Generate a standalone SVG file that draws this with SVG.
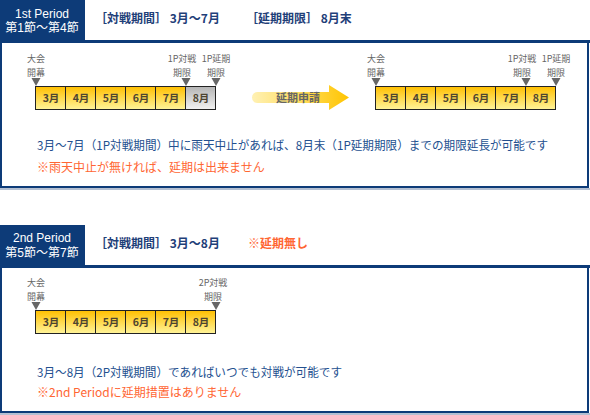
<svg xmlns="http://www.w3.org/2000/svg" width="590" height="415" viewBox="0 0 590 415">
<defs>
<linearGradient id="gy" x1="0" y1="0" x2="0" y2="1"><stop offset="0" stop-color="#ffbf00"/><stop offset="1" stop-color="#fff49a"/></linearGradient>
<linearGradient id="gg" x1="0" y1="0" x2="0" y2="1"><stop offset="0" stop-color="#b4b4b4"/><stop offset="1" stop-color="#f2f2f2"/></linearGradient>
<linearGradient id="ga" x1="0" y1="0" x2="1" y2="0"><stop offset="0" stop-color="#fff1b4"/><stop offset="0.6" stop-color="#ffd84a"/><stop offset="1" stop-color="#ffc400"/></linearGradient>
<style>
.tab{fill:#0d3b78}
.frm{fill:#0d3b78}
.sh{fill:#b4c0d2}
.tt{font-family:"Liberation Sans","Noto Sans CJK JP",sans-serif;font-size:12px;fill:#fff;text-anchor:middle}
.ttl{font-family:"Noto Sans CJK JP",sans-serif;font-size:12px;font-weight:bold;fill:#1f4079}
.red{fill:#ff6633}
.cell{stroke:#222;stroke-width:1}
.cl{font-family:"Noto Sans CJK JP",sans-serif;font-size:10.5px;font-weight:bold;fill:#4d4430;text-anchor:middle}
.lb{font-family:"Noto Sans CJK JP",sans-serif;font-size:9px;fill:#666;text-anchor:middle}
.tri{fill:#666}
.bt{font-family:"Noto Sans CJK JP",sans-serif;font-size:12px;fill:#23508f}
.rt{font-family:"Noto Sans CJK JP",sans-serif;font-size:12px;fill:#ff6633}
.at{font-family:"Noto Sans CJK JP",sans-serif;font-size:11px;font-weight:bold;fill:#666;text-anchor:middle}
</style>
</defs>

<!-- Section 1 -->
<g id="period1-header">
<rect class="tab" x="0" y="0" width="85" height="41"/>
<text class="tt" x="42" y="18">1st Period</text>
<text class="tt" x="42" y="32">第1節〜第4節</text>
<text class="ttl" x="95" y="23">［対戦期間］ 3月〜7月</text>
<text class="ttl" x="246" y="23">［延期期限］ 8月末</text>
</g>
<g id="period1-frame">
<rect class="frm" x="0" y="40" width="590" height="3"/>
<rect class="frm" x="0" y="40" width="2" height="148"/>
<rect class="frm" x="587" y="40" width="2" height="148"/>
<rect class="frm" x="0" y="186" width="589" height="2"/>
<rect class="sh" x="0" y="188" width="590" height="2"/>
</g>

<g id="timeline1">
<rect class="cell" x="35.5" y="86.5" width="30" height="23" fill="url(#gy)"/>
<rect class="cell" x="65.5" y="86.5" width="30" height="23" fill="url(#gy)"/>
<rect class="cell" x="95.5" y="86.5" width="30" height="23" fill="url(#gy)"/>
<rect class="cell" x="125.5" y="86.5" width="30" height="23" fill="url(#gy)"/>
<rect class="cell" x="155.5" y="86.5" width="30" height="23" fill="url(#gy)"/>
<rect class="cell" x="185.5" y="86.5" width="30" height="23" fill="url(#gg)"/>
<text class="cl" x="51" y="102">3月</text>
<text class="cl" x="81" y="102">4月</text>
<text class="cl" x="111" y="102">5月</text>
<text class="cl" x="141" y="102">6月</text>
<text class="cl" x="171" y="102">7月</text>
<text class="cl" x="201" y="102">8月</text>
<polygon class="tri" points="31.5,78 40.5,78 36,86"/>
<polygon class="tri" points="181.5,78 190.5,78 186,86"/>
<polygon class="tri" points="211.5,78 220.5,78 216,86"/>
<text class="lb" x="36" y="62">大会</text>
<text class="lb" x="36" y="75.5">開幕</text>
<text class="lb" x="182" y="62">1P対戦</text>
<text class="lb" x="182" y="75.5">期限</text>
<text class="lb" x="216" y="62">1P延期</text>
<text class="lb" x="216" y="75.5">期限</text>
</g>

<g id="arrow">
<path d="M257.5,92 H329 V85 L349,97.5 L329,110 V103 H257.5 A5.5,5.5 0 0 1 257.5,92 Z" fill="url(#ga)"/>
<text class="at" x="298" y="102">延期申請</text>
</g>

<g id="timeline2">
<rect class="cell" x="375.5" y="86.5" width="30" height="23" fill="url(#gy)"/>
<rect class="cell" x="405.5" y="86.5" width="30" height="23" fill="url(#gy)"/>
<rect class="cell" x="435.5" y="86.5" width="30" height="23" fill="url(#gy)"/>
<rect class="cell" x="465.5" y="86.5" width="30" height="23" fill="url(#gy)"/>
<rect class="cell" x="495.5" y="86.5" width="30" height="23" fill="url(#gy)"/>
<rect class="cell" x="525.5" y="86.5" width="30" height="23" fill="url(#gy)"/>
<text class="cl" x="391" y="102">3月</text>
<text class="cl" x="421" y="102">4月</text>
<text class="cl" x="451" y="102">5月</text>
<text class="cl" x="481" y="102">6月</text>
<text class="cl" x="511" y="102">7月</text>
<text class="cl" x="541" y="102">8月</text>
<polygon class="tri" points="371.5,78 380.5,78 376,86"/>
<polygon class="tri" points="521.5,78 530.5,78 526,86"/>
<polygon class="tri" points="551.5,78 560.5,78 556,86"/>
<text class="lb" x="376" y="62">大会</text>
<text class="lb" x="376" y="75.5">開幕</text>
<text class="lb" x="522" y="62">1P対戦</text>
<text class="lb" x="522" y="75.5">期限</text>
<text class="lb" x="556" y="62">1P延期</text>
<text class="lb" x="556" y="75.5">期限</text>
</g>

<g id="period1-notes">
<text class="bt" x="37" y="150" textLength="511" lengthAdjust="spacingAndGlyphs">3月〜7月（1P対戦期間）中に雨天中止があれば、8月末（1P延期期限）までの期限延長が可能です</text>
<text class="rt" x="37" y="172">※雨天中止が無ければ、延期は出来ません</text>
</g>

<!-- Section 2 -->
<g id="period2-header">
<rect class="tab" x="0" y="225" width="85" height="41"/>
<text class="tt" x="42" y="242">2nd Period</text>
<text class="tt" x="42" y="257">第5節〜第7節</text>
<text class="ttl" x="95" y="248">［対戦期間］ 3月〜8月</text>
<text class="ttl red" x="248" y="248">※延期無し</text>
</g>
<g id="period2-frame">
<rect class="frm" x="0" y="265" width="590" height="3"/>
<rect class="frm" x="0" y="265" width="2" height="148"/>
<rect class="frm" x="587" y="265" width="2" height="148"/>
<rect class="frm" x="0" y="411" width="589" height="2"/>
<rect class="sh" x="0" y="413" width="590" height="2"/>
</g>

<g id="timeline3">
<rect class="cell" x="35.5" y="310.5" width="30" height="23" fill="url(#gy)"/>
<rect class="cell" x="65.5" y="310.5" width="30" height="23" fill="url(#gy)"/>
<rect class="cell" x="95.5" y="310.5" width="30" height="23" fill="url(#gy)"/>
<rect class="cell" x="125.5" y="310.5" width="30" height="23" fill="url(#gy)"/>
<rect class="cell" x="155.5" y="310.5" width="30" height="23" fill="url(#gy)"/>
<rect class="cell" x="185.5" y="310.5" width="30" height="23" fill="url(#gy)"/>
<text class="cl" x="51" y="326">3月</text>
<text class="cl" x="81" y="326">4月</text>
<text class="cl" x="111" y="326">5月</text>
<text class="cl" x="141" y="326">6月</text>
<text class="cl" x="171" y="326">7月</text>
<text class="cl" x="201" y="326">8月</text>
<polygon class="tri" points="31.5,302 40.5,302 36,310"/>
<polygon class="tri" points="211.5,302 220.5,302 216,310"/>
<text class="lb" x="36" y="286">大会</text>
<text class="lb" x="36" y="299.5">開幕</text>
<text class="lb" x="213" y="286">2P対戦</text>
<text class="lb" x="213" y="299.5">期限</text>
</g>

<g id="period2-notes">
<text class="bt" x="37" y="377" textLength="305" lengthAdjust="spacingAndGlyphs">3月〜8月（2P対戦期間）であればいつでも対戦が可能です</text>
<text class="rt" x="37" y="397">※2nd Periodに延期措置はありません</text>
</g>
</svg>
